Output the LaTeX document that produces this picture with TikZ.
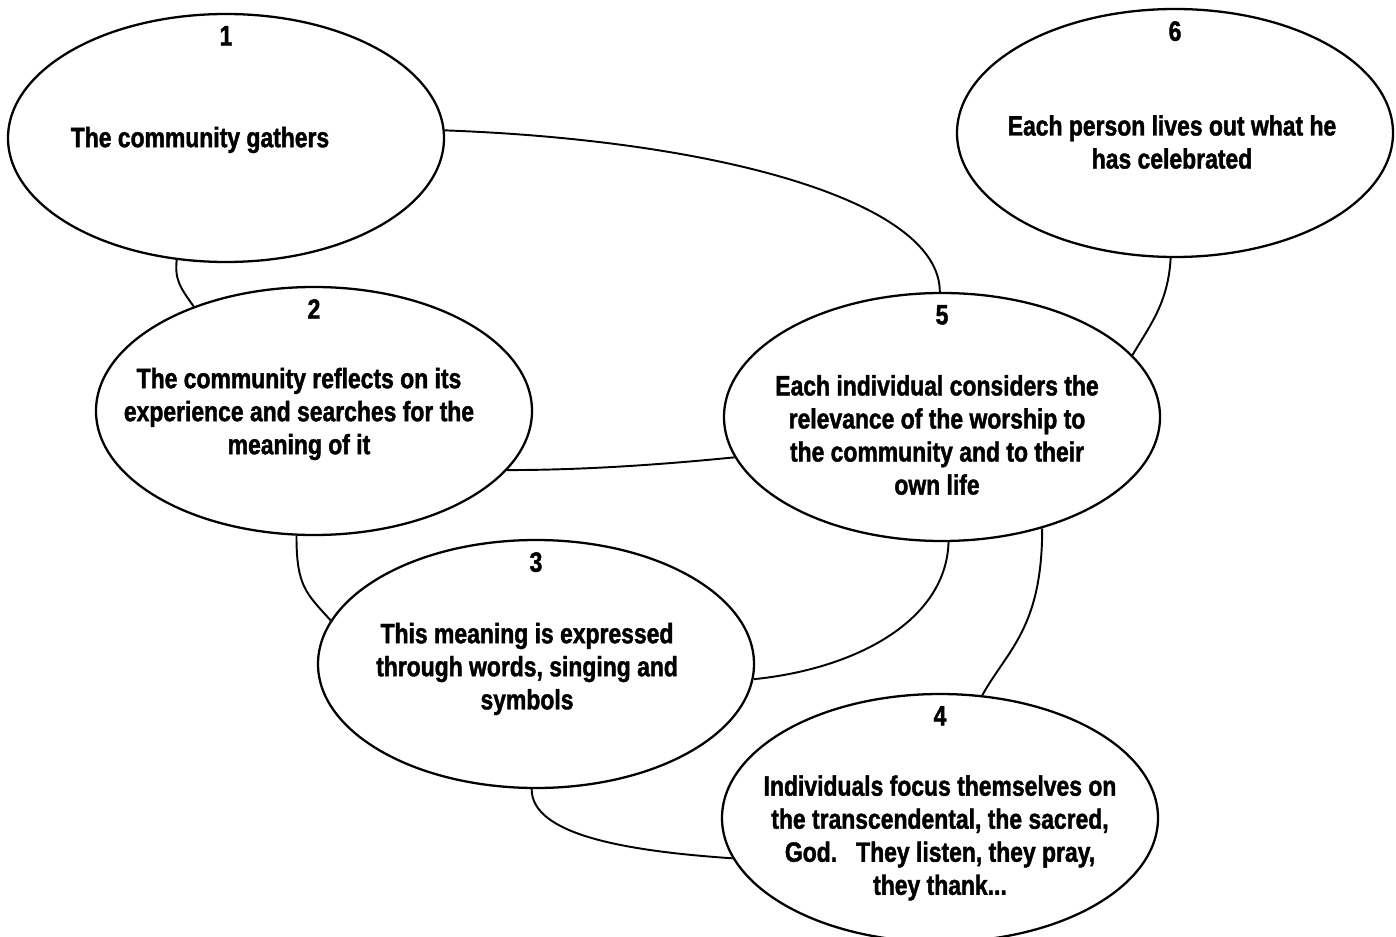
\documentclass[tikz,border=0pt]{standalone}
\usepackage{fontspec}
\setmainfont{Liberation Sans}[FakeStretch=0.82, BoldFeatures={FakeBold=1.5}]
\usepackage{tikz}
\usetikzlibrary{shapes.geometric, positioning}
\tikzstyle{stage} = [ellipse, draw=black, line width=1.3pt, minimum width=8.72cm, minimum height=4.96cm, inner sep=0pt]
\tikzstyle{num} = [inner sep=0pt, font=\fontsize{15.9}{18.8}\selectfont\bfseries]
\tikzstyle{words} = [inner sep=0pt, align=center, font=\fontsize{15.9}{18.8}\selectfont\bfseries]
\tikzstyle{link} = [line width=1.1pt]

\begin{document}
\begin{tikzpicture}
	\useasboundingbox (0,0) rectangle (27.92,-18.74);

	\node (e1) [stage] at (4.52,-2.76) {};
	\node (e2) [stage] at (6.28,-8.22) {};
	\node (e3) [stage] at (10.72,-13.28) {};
	\node (e4) [stage] at (18.80,-16.36) {};
	\node (e5) [stage] at (18.84,-8.34) {};
	\node (e6) [stage] at (23.50,-2.66) {};

	\node (n1) [num, below=0.26cm of e1.north] {1};
	\node (n2) [num, below=0.26cm of e2.north] {2};
	\node (n3) [num, below=0.26cm of e3.north] {3};
	\node (n4) [num, below=0.26cm of e4.north] {4};
	\node (n5) [num, below=0.26cm of e5.north] {5};
	\node (n6) [num, below=0.26cm of e6.north] {6};

	\node (t1) [words] at (4.00,-2.80) {The community gathers};
	\node (t2) [words] at (5.98,-8.28) {The community reflects on its\\experience and searches for the\\meaning of it};
	\node (t3) [words] at (10.54,-13.38) {This meaning is expressed\\through words, singing and\\symbols};
	\node (t4) [words] at (18.80,-16.76) {Individuals focus themselves on\\the transcendental, the sacred,\\God.\ \ \ They listen, they pray,\\they thank...};
	\node (t5) [words] at (18.74,-8.70) {Each individual considers the\\relevance of the worship to\\the community and to their\\own life};
	\node (t6) [words] at (23.44,-2.84) {Each person lives out what he\\has celebrated};

	\draw [link] (e1.248) .. controls +(-0.05,-0.4) and +(-0.25,0.35) .. (e2.139);
	\draw [link] (e1.2) .. controls +(5.5,-0.2) and +(0,1.8) .. (e5.91);
	\draw [link] (e6.268) .. controls +(-0.05,-0.9) and +(0.35,0.6) .. (e5.18);
	\draw [link] (e2.343) .. controls +(1.5,0) and +(-1.5,-0.15) .. (e5.191);
	\draw [link] (e2.262) .. controls +(0,-1.0) and +(-0.5,0.55) .. (e3.168);
	\draw [link] (e3.356) .. controls +(2.0,0.2) and +(-0.05,-1.6) .. (e5.273);
	\draw [link] (e5.312) .. controls +(0,-2.0) and +(0.5,0.9) .. (e4.71);
	\draw [link] (e3.268) .. controls +(0,-0.9) and +(-2.2,0.15) .. (e4.191);
\end{tikzpicture}
\end{document}
